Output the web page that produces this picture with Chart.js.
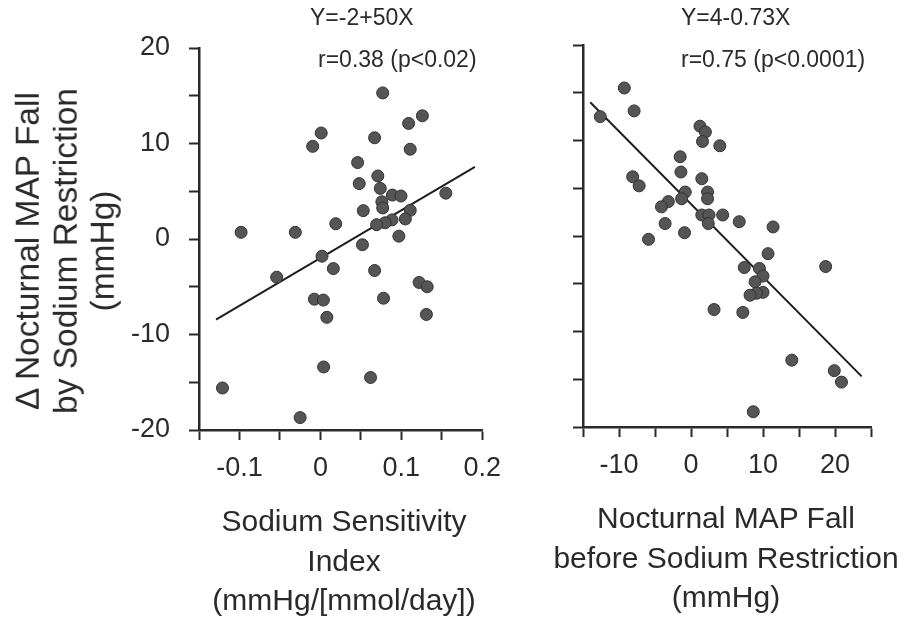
<!DOCTYPE html>
<html lang="en">
<head>
<meta charset="UTF-8">
<title>Nocturnal MAP Fall vs Sodium Sensitivity</title>
<script src="https://cdn.jsdelivr.net/npm/chart.js"></script>
<style>
    body {
        margin: 0;
        background: #ffffff;
        font-family: "Liberation Sans", Arial, sans-serif;
        color: #2a2a2a;
    }
    #wrap {
        position: relative;
        width: 916px;
        height: 622px;
    }
    .panel {
        position: absolute;
        top: 0;
        height: 622px;
    }
    .note {
        position: absolute;
        font-size: 23px;
        line-height: 23px;
        white-space: nowrap;
    }
    .xtitle {
        position: absolute;
        width: 420px;
        margin-left: -210px;
        text-align: center;
        font-size: 30px;
        line-height: 39.5px;
        white-space: nowrap;
    }
    .ytitle {
        position: absolute;
        left: 65px;
        top: 251px;
        width: 400px;
        text-align: center;
        font-size: 33.5px;
        line-height: 37.5px;
        white-space: nowrap;
        transform: translate(-50%, -50%) rotate(-90deg);
    }
</style>
</head>
<body>
<div id="wrap">
    <div class="panel" style="left:0;width:513px;"><canvas id="leftChart"></canvas></div>
    <div class="panel" style="left:520px;width:396px;"><canvas id="rightChart"></canvas></div>
    <div class="note" style="left:310px;top:6px;">Y=-2+50X</div>
    <div class="note" style="left:318px;top:48px;">r=0.38 (p&lt;0.02)</div>
    <div class="note" style="left:681px;top:6px;">Y=4-0.73X</div>
    <div class="note" style="left:681px;top:48px;">r=0.75 (p&lt;0.0001)</div>
    <div class="ytitle" id="yTitle"></div>
    <div class="xtitle" id="leftXTitle" style="left:344px;top:501px;"></div>
    <div class="xtitle" id="rightXTitle" style="left:726px;top:498px;"></div>
</div>

<script>
    // left panel: sodium sensitivity index vs change in nocturnal MAP fall
    const ssiX = [0.077, 0.126, 0.109, 0.001, -0.0095, 0.067, 0.111, 0.046, 0.071, 0.048,
                  0.074, 0.089, 0.0996, 0.155, 0.076, 0.077, 0.053, 0.111, 0.105, 0.0885,
                  0.080, 0.0695, 0.019, -0.098, -0.031, 0.097, 0.052, 0.002, -0.054, 0.016,
                  0.067, 0.122, 0.132, -0.0074, 0.0037, 0.078, 0.008, 0.131, 0.004, 0.062,
                  -0.121, -0.025];
    const ssiY = [15.3, 12.9, 12.1, 11.1, 9.7, 10.6, 9.4, 8.0, 6.6, 5.8,
                  5.3, 4.6, 4.5, 4.8, 3.9, 3.25, 2.97, 3.0, 2.1, 2.0,
                  1.7, 1.5, 1.6, 0.7, 0.7, 0.3, -0.6, -1.8, -4.0, -3.1,
                  -3.3, -4.55, -5.0, -6.3, -6.4, -6.2, -8.2, -7.9, -13.4, -14.5,
                  -15.6, -18.7];
    const ssiFitX = [-0.129, 0.191];
    const ssiFitY = [-8.45, 7.55];

    // right panel: nocturnal MAP fall before restriction vs change
    const preX = [-9.26, -12.6, -7.9, 1.25, 2.0, 1.6, 4.0, -1.5, -1.4, 1.5,
                  -8.1, -7.2, -0.8, 2.3, -1.3, 2.3, -3.15, -4.1, 1.5, 2.5,
                  4.4, 2.4, -3.6, 6.7, 11.4, -0.9, -5.9, 10.7, 7.4, 9.5,
                  18.7, 10.0, 8.9, 10.0, 9.1, 8.2, 3.2, 7.2, 14.0, 19.9,
                  20.9, 8.65];
    const preY = [15.5, 12.5, 13.1, 11.5, 10.9, 9.9, 9.45, 8.3, 6.7, 6.0,
                  6.2, 5.25, 4.6, 4.6, 3.9, 3.9, 3.6, 3.05, 2.2, 2.2,
                  2.2, 1.3, 1.3, 1.5, 0.95, 0.35, -0.35, -1.85, -3.3, -3.4,
                  -3.2, -4.2, -4.8, -5.9, -6.0, -6.2, -7.7, -8.0, -13.0, -14.1,
                  -15.3, -18.4];
    const preFitX = [-14.0, 23.7];
    const preFitY = [14.0, -14.7];

    const yTitle = ['\u0394 Nocturnal MAP Fall', 'by Sodium Restriction', '(mmHg)'];
    const leftXTitle = ['Sodium Sensitivity', 'Index', '(mmHg/[mmol/day])'];
    const rightXTitle = ['Nocturnal MAP Fall', 'before Sodium Restriction', '(mmHg)'];

    const ink = '#2a2a2a';
    const fontFamily = '"Liberation Sans", Arial, sans-serif';

    // axis titles as stacked lines
    function fillTitle(id, lines) {
        const el = document.getElementById(id);
        lines.forEach((line) => {
            const d = document.createElement('div');
            d.textContent = line;
            el.appendChild(d);
        });
    }
    fillTitle('yTitle', yTitle);
    fillTitle('leftXTitle', leftXTitle);
    fillTitle('rightXTitle', rightXTitle);

    function toPoints(xs, ys) {
        return xs.map((x, i) => ({ x: x, y: ys[i] }));
    }

    function axisBase() {
        return {
            border: { display: true, color: ink, width: 2.5 },
            grid: { display: true, drawOnChartArea: false, drawTicks: true, tickLength: 10, tickColor: ink, tickWidth: 2 },
            ticks: { color: ink, font: { family: fontFamily, size: 27 }, padding: 12, autoSkip: false, maxRotation: 0 }
        };
    }

    function makeChart(id, opts) {
        const ctx = document.getElementById(id).getContext('2d');
        const xAxis = axisBase();
        xAxis.type = 'linear';
        xAxis.min = opts.xMin;
        xAxis.max = opts.xMax;
        xAxis.ticks.stepSize = opts.xStep;
        xAxis.ticks.callback = opts.xLabel;
        xAxis.afterFit = (scale) => { scale.height = opts.xHeight; };

        const yAxis = axisBase();
        yAxis.min = -20;
        yAxis.max = 20;
        yAxis.ticks.stepSize = 5;
        yAxis.ticks.padding = 19;
        yAxis.ticks.callback = opts.yLabel;
        yAxis.afterFit = (scale) => { scale.width = opts.yWidth; };

        return new Chart(ctx, {
            type: 'scatter',
            data: {
                datasets: [{
                    data: toPoints(opts.xs, opts.ys),
                    backgroundColor: '#555555',
                    borderColor: '#333333',
                    borderWidth: 1,
                    pointRadius: 6
                }, {
                    type: 'line',
                    data: toPoints(opts.fitX, opts.fitY),
                    borderColor: '#1e1e1e',
                    borderWidth: 2,
                    pointRadius: 0,
                    fill: false
                }]
            },
            options: {
                responsive: true,
                maintainAspectRatio: false,
                animation: false,
                layout: { padding: opts.padding },
                plugins: { legend: { display: false }, tooltip: { enabled: false } },
                scales: { x: xAxis, y: yAxis }
            }
        });
    }

    makeChart('leftChart', {
        xs: ssiX, ys: ssiY, fitX: ssiFitX, fitY: ssiFitY,
        xMin: -0.15, xMax: 0.2, xStep: 0.05,
        xLabel: (v) => {
            const k = Math.round(v * 100);
            if (k === -15 || k % 10 !== 0) return '';
            return k === 0 ? '0' : (k / 100).toFixed(1);
        },
        yLabel: (v) => (v % 10 === 0 ? String(v) : ''),
        xHeight: 192, yWidth: 199,
        padding: { top: 48, right: 22, bottom: 0, left: 0 }
    });

    makeChart('rightChart', {
        xs: preX, ys: preY, fitX: preFitX, fitY: preFitY,
        xMin: -15, xMax: 25, xStep: 5,
        xLabel: (v) => (v % 10 === 0 ? String(v) : ''),
        yLabel: () => '',
        xHeight: 195, yWidth: 63,
        padding: { top: 45, right: 45, bottom: 0, left: 0 }
    });
</script>
</body>
</html>
